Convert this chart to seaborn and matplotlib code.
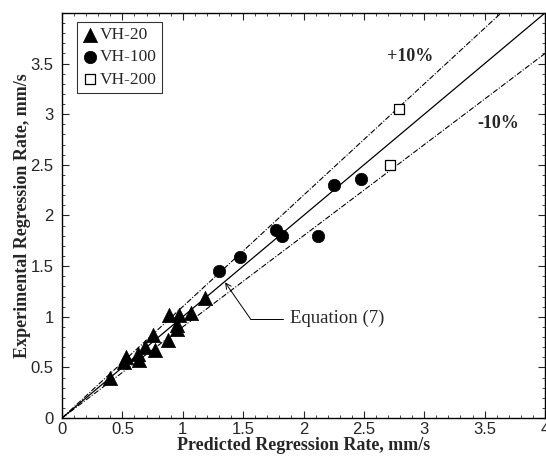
import numpy as np
import pandas as pd
import matplotlib
matplotlib.use("Agg")
import matplotlib.pyplot as plt
from matplotlib.ticker import MultipleLocator
import seaborn as sns

# values (predicted, experimental), mm/s
vh20_pred = [0.40, 0.51, 0.53, 0.64, 0.63, 0.69, 0.75, 0.77, 0.88, 0.89, 0.97, 0.95, 0.95, 1.07, 1.18]
vh20_exp = [0.40, 0.55, 0.60, 0.57, 0.63, 0.70, 0.82, 0.67, 0.77, 1.02, 1.02, 0.92, 0.88, 1.04, 1.19]
vh100_pred = [1.30, 1.47, 1.77, 1.82, 2.12, 2.25, 2.48]
vh100_exp = [1.45, 1.59, 1.86, 1.80, 1.80, 2.30, 2.36]
vh200_pred = [2.79, 2.72]
vh200_exp = [3.05, 2.50]

series_names = ["VH-20", "VH-100", "VH-200"]
x_ticks = [0, 0.5, 1, 1.5, 2, 2.5, 3, 3.5, 4]
x_tick_labels = ["0", "0.5", "1", "1.5", "2", "2.5", "3", "3.5", "4"]
y_ticks = [0, 0.5, 1, 1.5, 2, 2.5, 3, 3.5]
y_tick_labels = ["0", "0.5", "1", "1.5", "2", "2.5", "3", "3.5"]
ref_x = [0.0, 4.0]
ref_factors = [1.0, 1.1, 0.9]

serif = ["Liberation Serif", "DejaVu Serif"]
sans = ["Liberation Sans", "DejaVu Sans"]

sns.set_style("white")
plt.rcParams["font.family"] = sans

fig = plt.figure(figsize=(5.46, 4.57), dpi=100)
ax = fig.add_axes([0.1136, 0.0853, 0.8846, 0.8863])

######## reference lines ########
for f in ref_factors:
    ref = pd.DataFrame({"x": ref_x, "y": [v * f for v in ref_x]})
    if f == 1.0:
        sns.lineplot(data=ref, x="x", y="y", color="black", lw=0.9, ax=ax)
    else:
        sns.lineplot(data=ref, x="x", y="y", color="black", lw=0.8, ax=ax,
                     dashes=False, linestyle=(0, (5, 1.5, 1, 1.5)))

######## data points ########
df = pd.concat([
    pd.DataFrame({"pred": vh20_pred, "exp": vh20_exp, "series": series_names[0]}),
    pd.DataFrame({"pred": vh100_pred, "exp": vh100_exp, "series": series_names[1]}),
    pd.DataFrame({"pred": vh200_pred, "exp": vh200_exp, "series": series_names[2]}),
])
styles = {
    "VH-20": dict(marker="^", s=105, color="black", edgecolor="black", linewidth=0.5),
    "VH-100": dict(marker="o", s=80, color="black", edgecolor="black", linewidth=0.5),
    "VH-200": dict(marker="s", s=60, color="white", edgecolor="black", linewidth=0.9),
}
for name in series_names:
    sub = df[df["series"] == name]
    sns.scatterplot(data=sub, x="pred", y="exp", ax=ax, label=name, zorder=3, **styles[name])

ax.set_xlim(0, 4)
ax.set_ylim(0, 4)
ax.set_xticks(x_ticks)
ax.set_xticklabels(x_tick_labels)
ax.set_yticks(y_ticks)
ax.set_yticklabels(y_tick_labels)
ax.xaxis.set_minor_locator(MultipleLocator(0.1))
ax.yaxis.set_minor_locator(MultipleLocator(0.1))
ax.tick_params(which="major", direction="in", length=5, width=0.8, labelsize=12,
               top=True, right=True, pad=3, bottom=True, left=True)
ax.tick_params(axis="y", which="major", pad=6)
ax.tick_params(which="minor", direction="in", length=2.5, width=0.6,
               top=True, right=True, bottom=True, left=True)
for sp in ax.spines.values():
    sp.set_color("black")
    sp.set_linewidth(1.0)

ax.set_xlabel("Predicted Regression Rate, mm/s", family=serif, fontweight="bold",
              fontsize=13, labelpad=0)
ax.set_ylabel("Experimental Regression Rate, mm/s", family=serif, fontweight="bold",
              fontsize=13, labelpad=0)

ax.text(2.69, 3.57, "+10%", family=serif, fontweight="bold", fontsize=13, va="center")
ax.text(3.44, 2.91, "-10%", family=serif, fontweight="bold", fontsize=13, va="center")

ax.annotate("", xy=(1.35, 1.34), xytext=(1.56, 0.98),
            arrowprops=dict(arrowstyle="->", color="black", lw=0.7, shrinkA=0, shrinkB=0))
ax.plot([1.56, 1.83], [0.98, 0.98], color="black", lw=0.7)
ax.text(1.89, 0.98, "Equation (7)", family=serif, fontsize=13.5, va="center")

leg = ax.legend(loc="upper left", bbox_to_anchor=(0.03, 0.978), frameon=True, fancybox=False,
                prop={"family": serif, "size": 12.5}, handletextpad=0.05, borderpad=0.3,
                labelspacing=0.35, handlelength=1.0, borderaxespad=0)
leg.get_frame().set_edgecolor("black")
leg.get_frame().set_linewidth(0.8)

fig.savefig("out.png", dpi=100)
